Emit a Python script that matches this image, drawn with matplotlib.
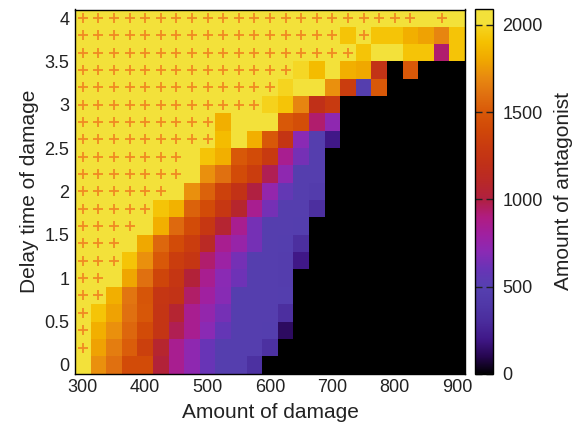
import numpy as np
import matplotlib
matplotlib.use("Agg")
from matplotlib import pyplot as plt
from matplotlib.colors import LinearSegmentedColormap, Normalize
from matplotlib.ticker import FormatStrFormatter

plt.rcParams["font.family"] = ["Liberation Sans", "DejaVu Sans"]

# x: amount of damage, y: delay time of damage
damage = [300, 325, 350, 375, 400, 425, 450, 475, 500, 525, 550, 575, 600,
          625, 650, 675, 700, 725, 750, 775, 800, 825, 850, 875, 900]
delay = [4.0, 3.8, 3.6, 3.4, 3.2, 3.0, 2.8, 2.6, 2.4, 2.2, 2.0,
         1.8, 1.6, 1.4, 1.2, 1.0, 0.8, 0.6, 0.4, 0.2, 0.0]

# amount of antagonist, one row per delay value (top row first)
antagonist = [
    [2050] * 25,
    [2050] * 17 + [1920, 2050, 1920, 1920, 1830, 1780, 1680, 1920],
    [2050] * 18 + [1920, 2050, 2050, 1920, 1920, 930, 1920],
    [2050] * 14 + [2000, 1880, 2050, 1830, 1800, 1230, 0, 1500, 0, 0, 0],
    [2050] * 13 + [1990, 2050, 2050, 1720, 1320, 480, 1500, 0, 0, 0, 0, 0],
    [2050] * 12 + [1980, 1920, 1680, 1200, 1300] + [0] * 8,
    [2050] * 9 + [1830, 2050, 2050, 2050, 1500, 1440, 930, 720] + [0] * 8,
    [2050] * 9 + [1880, 2050, 1830, 1500, 1250, 700, 480, 200] + [0] * 8,
    [2050] * 7 + [2050, 1920, 1830, 1500, 1420, 1300, 850, 640, 480] + [0] * 9,
    [2050] * 7 + [2050, 1720, 1600, 1420, 1320, 970, 720, 480, 480] + [0] * 9,
    [2050] * 6 + [2050, 1720, 1540, 1350, 1220, 1000, 740, 570, 480, 450] + [0] * 9,
    [2050] * 5 + [1920, 1840, 1540, 1420, 1270, 1080, 850, 640, 480, 480, 330] + [0] * 9,
    [2050] * 4 + [2050, 1830, 1570, 1420, 1270, 1060, 850, 640, 480, 480, 470] + [0] * 10,
    [2050] * 3 + [2050, 1800, 1560, 1420, 1320, 1120, 850, 760, 640, 480, 470, 330] + [0] * 10,
    [2050] * 3 + [1920, 1720, 1500, 1320, 1260, 930, 780, 640, 480, 480, 460, 200] + [0] * 10,
    [2050] * 2 + [2050, 1790, 1600, 1380, 1260, 1030, 850, 700, 620, 480, 480, 460] + [0] * 11,
    [2050] * 2 + [1830, 1620, 1480, 1260, 1230, 940, 800, 690, 480, 480, 480, 470] + [0] * 11,
    [2050, 1920, 1780, 1600, 1490, 1250, 1060, 850, 740, 640, 480, 480, 480, 330] + [0] * 11,
    [2050, 1830, 1720, 1560, 1420, 1250, 970, 850, 700, 580, 480, 480, 470, 130] + [0] * 11,
    [2050, 1780, 1650, 1520, 1340, 1070, 850, 720, 600, 480, 480, 480, 340] + [0] * 12,
    [2050, 1720, 1600, 1420, 1420, 1030, 850, 720, 600, 480, 480, 340] + [0] * 13,
]

# number of marked (+) cells from the left in each row, plus two stray ones
n_marked = [22, 17, 18, 14, 13, 12, 9, 9, 7, 7, 6, 5, 4, 3, 3, 2, 2, 1, 1, 1, 0]
extra_marked = [(875, 4.0), (750, 3.8)]

cb_ticks = [0, 500, 1000, 1500, 2000]
vmax = 2090

# palette
pal_vals = [0, 100, 200, 300, 400, 500, 600, 700, 800, 900, 1000, 1100, 1200,
            1300, 1400, 1500, 1600, 1700, 1800, 1900, 2000]
pal_cols = ["#000000", "#260650", "#401888", "#4a2c9c", "#5038a8", "#5640b0",
            "#6834b6", "#8a2ab4", "#a020a0", "#b01c80", "#b02040", "#b82828",
            "#c03018", "#c83a10", "#d04808", "#d85808", "#e07010", "#e88a10",
            "#f0a800", "#f5c000", "#f5d622"]
top_col = "#f3e13a"

stops = [(v / vmax, c) for v, c in zip(pal_vals, pal_cols)]
stops += [(2001 / vmax, top_col), (1.0, top_col)]
cmap = LinearSegmentedColormap.from_list("antagonist", stops, N=1024)
norm = Normalize(vmin=0, vmax=vmax)

fig = plt.figure(figsize=(5.78, 4.28), dpi=100)
ax = fig.add_axes([75 / 578, 1 - 373.5 / 428, 390 / 578, 364 / 428])
cax = fig.add_axes([475 / 578, 1 - 374 / 428, 17.5 / 578, 365 / 428])

Z = np.array(antagonist, dtype=float)
mesh = ax.pcolormesh(damage, delay, Z, cmap=cmap, norm=norm, shading="nearest")

mx, my = [], []
for row, n in enumerate(n_marked):
    mx += damage[:n]
    my += [delay[row]] * n
for x, y in extra_marked:
    mx.append(x)
    my.append(y)
ax.plot(mx, my, linestyle="none", marker="+", markersize=6.5, mew=1.3, color="#f08a22")

ax.set_xlim(287.5, 912.5)
ax.set_ylim(-0.1, 4.1)
ax.set_xticks([300, 400, 500, 600, 700, 800, 900])
ax.set_yticks([0, 0.5, 1, 1.5, 2, 2.5, 3, 3.5, 4])
ax.yaxis.set_major_formatter(FormatStrFormatter("%g"))
ax.tick_params(length=0, labelsize=13, pad=4, colors="#222222")
ax.set_xlabel("Amount of damage", fontsize=15, color="#222222", labelpad=5)
ax.set_ylabel("Delay time of damage", fontsize=15, color="#222222", labelpad=4)
for s in ax.spines.values():
    s.set_linewidth(1.0)

cb = fig.colorbar(mesh, cax=cax)
cb.set_ticks(cb_ticks)
cb.outline.set_linewidth(1.0)
cax.tick_params(which="both", direction="in", left=True, right=True, length=5,
                width=1.0, labelsize=13, pad=7, colors="#222222")
cax.minorticks_off()
cb.set_label("Amount of antagonist", fontsize=15, color="#222222", labelpad=8)

fig.savefig("out.png", dpi=100)
